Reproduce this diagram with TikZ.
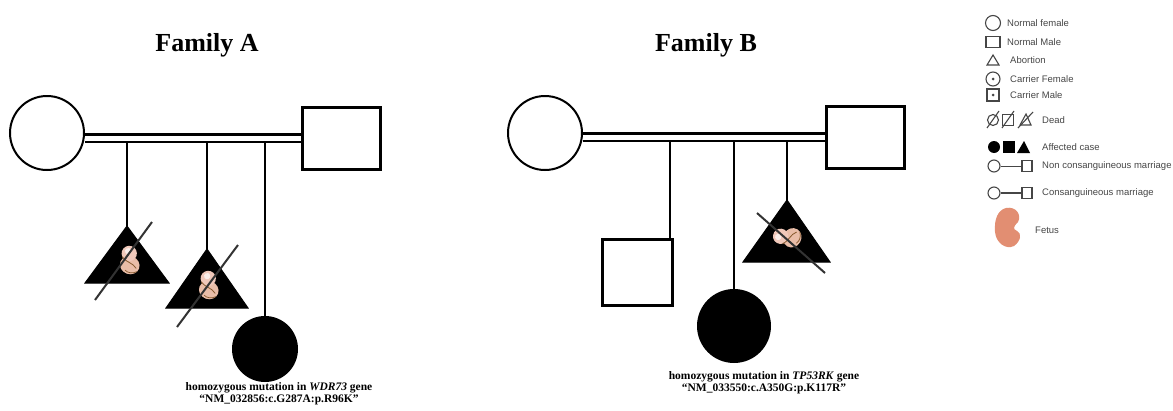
\documentclass[tikz,border=0pt]{standalone}
\usepackage{fontspec}
\setmainfont{Liberation Serif}
\newfontfamily\legendfont{Liberation Sans}
\usetikzlibrary{calc,backgrounds}
\definecolor{fetusskin}{RGB}{226,142,114}
\definecolor{embryopink}{RGB}{240,200,186}
\definecolor{legendgray}{RGB}{70,70,70}

\tikzset{
  female/.style={circle,draw,line width=2pt,minimum size=#1,inner sep=0pt},
  female/.default=74pt,
  male/.style={rectangle,draw,line width=3pt,minimum width=78pt,minimum height=62pt,inner sep=0pt},
  marriage/.style={draw,line width=2.4pt,double,double distance=5pt},
  line/.style={line width=2.8pt},
  abortion/.style={fill=black,draw=black,line width=1pt},
  slash/.style={line width=2pt,black!80},
  title/.style={font=\bfseries\fontsize{26}{29}\selectfont},
  note/.style={font=\bfseries\fontsize{11.5}{12}\selectfont,align=center,inner sep=0pt},
  legendtext/.style={anchor=west,inner sep=0pt,text=legendgray,font=\legendfont\fontsize{9.5}{10}\selectfont},
  lsym/.style={draw=legendgray,line width=1.1pt,inner sep=0pt},
  embryo/.pic={
    \fill[embryopink!85!brown] (2,3) ellipse (11 and 10);
    \fill[embryopink] (-3,-9) circle (8.5);
    \fill[white!70!embryopink] (-5,-11) circle (3.5);
    \draw[brown!70!black,line width=0.8pt] (-9,-3) .. controls (-2,2) and (4,-1) .. (10,4);
    \draw[brown!70!black,line width=0.7pt] (-1,10) .. controls (3,12) and (8,11) .. (12,7);
  },
  fetus/.pic={
    \fill[fetusskin] (-2,-19) .. controls (8,-21) and (14,-12) .. (10,-5)
      .. controls (6,-1) and (4,2) .. (9,4)
      .. controls (14,6) and (13,14) .. (6,19)
      .. controls (-2,23) and (-12,16) .. (-13,5)
      .. controls (-14,-8) and (-10,-17) .. (-2,-19) -- cycle;
  }
}

\begin{document}
\begin{tikzpicture}[x=1pt,y=-1pt]
\useasboundingbox (0,0) rectangle (1173,410);

% ---- Family A
\node[title] (titleA) at (207,45) {Family A};
\node[female] (motherA) at (47,133) {};
\node[male] (fatherA) at (341,138) {};
\begin{scope}[on background layer]
  \draw[marriage] (motherA.east |- fatherA) -- (fatherA.west);
\end{scope}
\coordinate (dropA1) at (127,142);
\coordinate (dropA2) at (207,142);
\coordinate (dropA3) at (265,142);

% two abortions
\coordinate (abortA1) at (127,226);
\coordinate (abortA2) at (207,249);
\draw[line] (dropA1) -- (abortA1);
\draw[line] (dropA2) -- (abortA2);
\filldraw[abortion] (abortA1) -- ++(42,57) -- ++(-84,0) -- cycle;
\filldraw[abortion] (abortA2) -- ++(41,59) -- ++(-82,0) -- cycle;
\pic[rotate=-20,scale=0.9] at (129,262) {embryo};
\pic[rotate=-20,scale=0.9] at (208,287) {embryo};
\draw[slash] ($(abortA1)+(-32,74)$) -- ($(abortA1)+(25,-4)$);
\draw[slash] ($(abortA2)+(-30,78)$) -- ($(abortA2)+(31,-4)$);

% affected daughter
\node[female=64pt,fill=black] (probandA) at (265,349) {};
\draw[line] (dropA3) -- (probandA.north);
\node[note] (noteA) at (279,394) {homozygous mutation in \textit{WDR73} gene\\``NM\_032856:c.G287A:p.R96K''};

% ---- Family B
\node[title] (titleB) at (706,45) {Family B};
\node[female] (motherB) at (545,133) {};
\node[male] (fatherB) at (865,137) {};
\begin{scope}[on background layer]
  \draw[marriage] (motherB.east |- fatherB) -- (fatherB.west);
\end{scope}
\coordinate (dropB1) at (670,142);
\coordinate (dropB2) at (734,142);
\coordinate (dropB3) at (787,142);

\node[male,minimum width=70pt,minimum height=66pt] (sonB) at (637,272) {};
\draw[line] (dropB1) -- (dropB1 |- sonB.north);

\node[female=72pt,fill=black] (probandB) at (734,326) {};
\draw[line] (dropB2) -- (probandB.north);

\coordinate (abortB) at (787,200);
\draw[line] (dropB3) -- (abortB);
\filldraw[abortion] (abortB) -- ++(43,62) -- ++(-87,0) -- cycle;
\pic[rotate=60,scale=0.9] at (789,238) {embryo};
\draw[slash] ($(abortB)+(-30,13)$) -- ($(abortB)+(38,73)$);

\node[note] (noteB) at (764,383) {homozygous mutation in \textit{TP53RK} gene\\``NM\_033550:c.A350G:p.K117R''};

% ---- legend
\node[lsym,circle,minimum size=15pt] (lgFemale) at (993,23) {};
\node[legendtext] at (1007,23) {Normal female};
\node[lsym,rectangle,minimum width=14pt,minimum height=11pt] (lgMale) at (993,42) {};
\node[legendtext] at (1007,42) {Normal Male};
\draw[lsym] (993,55) -- (999,65) -- (987,65) -- cycle;
\node[legendtext] at (1010,60) {Abortion};
\node[lsym,circle,minimum size=14pt] (lgCarrierF) at (993,79) {};
\fill[legendgray] (lgCarrierF) circle (1.5);
\node[legendtext] at (1010,79) {Carrier Female};
\node[lsym,rectangle,minimum size=12pt] (lgCarrierM) at (993,95) {};
\fill[legendgray] (lgCarrierM) circle (1.5);
\node[legendtext] at (1010,95) {Carrier Male};

% dead
\node[lsym,circle,minimum size=11pt] (lgDeadF) at (993,120) {};
\node[lsym,rectangle,minimum size=11pt] (lgDeadM) at (1008,120) {};
\draw[lsym] (1026,114) -- (1031,125) -- (1020,125) -- cycle;
\draw[lsym] ($(lgDeadF)+(-6,8)$) -- ($(lgDeadF)+(6,-9)$);
\draw[lsym] ($(lgDeadM)+(-6,8)$) -- ($(lgDeadM)+(6,-9)$);
\draw[lsym] (1018,128) -- (1033,112);
\node[legendtext] at (1042,120) {Dead};

% affected
\node[circle,fill=black,minimum size=12pt,inner sep=0pt] (lgAffF) at (994,147) {};
\node[rectangle,fill=black,minimum size=12pt,inner sep=0pt] (lgAffM) at (1009,147) {};
\fill[black] (1024,141) -- (1030,153) -- (1017,153) -- cycle;
\node[legendtext] at (1042,147) {Affected case};

% marriages
\node[lsym,circle,minimum size=12pt] (lgNonF) at (994,166) {};
\node[lsym,rectangle,minimum width=10pt,minimum height=11pt] (lgNonM) at (1027,166) {};
\draw[legendgray,line width=0.8pt] (lgNonF) -- (lgNonM);
\node[legendtext] at (1042,166) {Non consanguineous marriage};
\node[lsym,circle,minimum size=12pt] (lgConF) at (994,193) {};
\node[lsym,rectangle,minimum width=10pt,minimum height=11pt] (lgConM) at (1027,193) {};
\draw[legendgray,line width=2.4pt] (lgConF) -- (lgConM);
\node[legendtext] at (1042,193) {Consanguineous marriage};

% fetus
\pic at (1008,227) {fetus};
\node[legendtext] at (1035,230) {Fetus};
\end{tikzpicture}
\end{document}
